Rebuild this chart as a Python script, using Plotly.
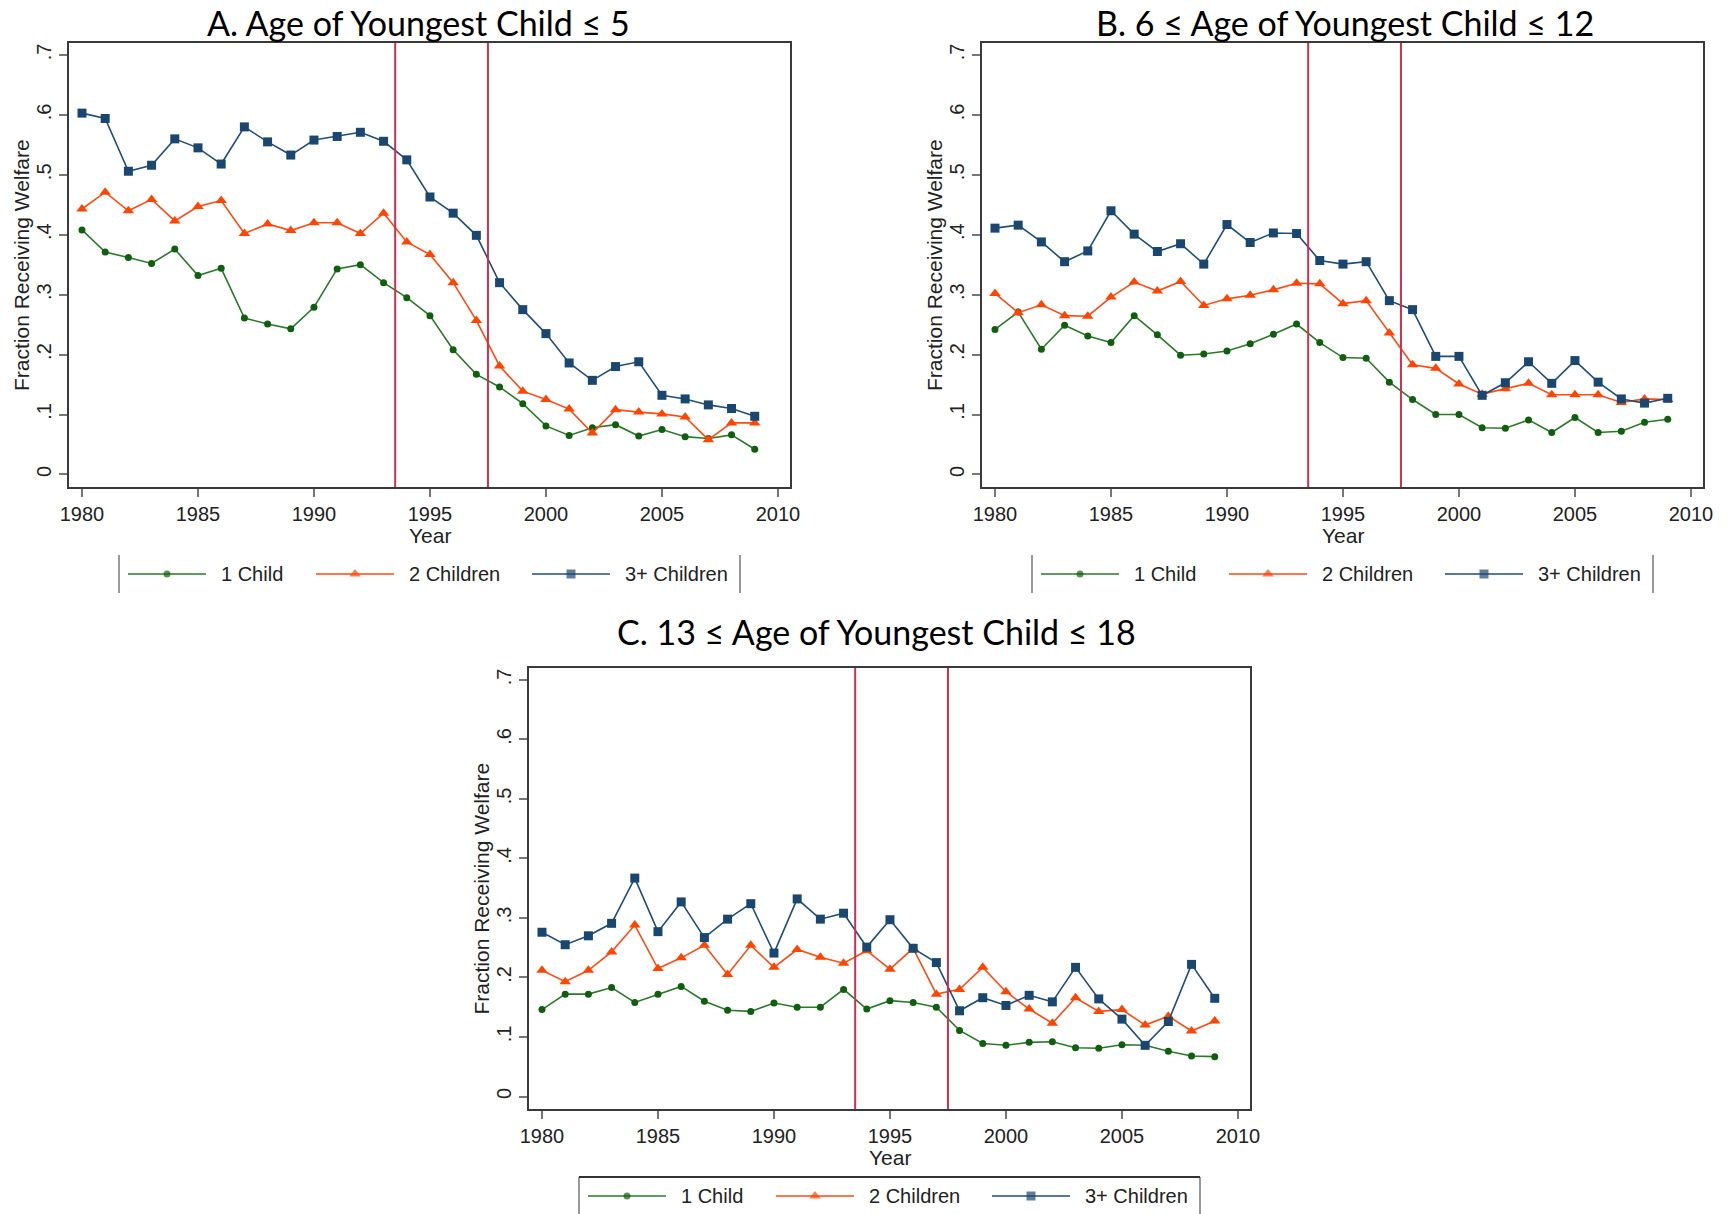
import plotly.graph_objects as go

# ---- data -------------------------------------------------------------
years = list(range(1980, 2010))

a_one = [0.408, 0.371, 0.362, 0.352, 0.376, 0.332, 0.344, 0.261, 0.251, 0.243,
         0.279, 0.343, 0.350, 0.320, 0.295, 0.265, 0.208, 0.167, 0.146, 0.118,
         0.081, 0.065, 0.078, 0.083, 0.064, 0.075, 0.063, 0.060, 0.066, 0.042]
a_two = [0.443, 0.471, 0.440, 0.459, 0.423, 0.447, 0.457, 0.402, 0.418, 0.407,
         0.420, 0.420, 0.402, 0.436, 0.388, 0.367, 0.320, 0.257, 0.181, 0.139,
         0.125, 0.109, 0.069, 0.108, 0.104, 0.101, 0.096, 0.058, 0.086, 0.086]
a_three = [0.603, 0.594, 0.506, 0.516, 0.560, 0.545, 0.518, 0.580, 0.555, 0.533,
           0.558, 0.564, 0.571, 0.556, 0.525, 0.463, 0.436, 0.399, 0.320, 0.275,
           0.235, 0.186, 0.157, 0.180, 0.188, 0.132, 0.126, 0.116, 0.110, 0.097]

b_one = [0.242, 0.271, 0.209, 0.249, 0.231, 0.220, 0.265, 0.233, 0.199, 0.201,
         0.206, 0.218, 0.234, 0.251, 0.220, 0.195, 0.194, 0.154, 0.125, 0.100,
         0.100, 0.078, 0.077, 0.091, 0.070, 0.095, 0.070, 0.072, 0.087, 0.092]
b_two = [0.302, 0.270, 0.283, 0.265, 0.264, 0.296, 0.321, 0.306, 0.322, 0.282,
         0.293, 0.299, 0.308, 0.319, 0.318, 0.285, 0.290, 0.236, 0.183, 0.177,
         0.151, 0.134, 0.143, 0.152, 0.133, 0.133, 0.133, 0.120, 0.126, 0.125]
b_three = [0.411, 0.416, 0.388, 0.355, 0.373, 0.440, 0.401, 0.372, 0.385, 0.351,
           0.417, 0.387, 0.403, 0.402, 0.357, 0.351, 0.355, 0.290, 0.275, 0.197,
           0.197, 0.132, 0.153, 0.188, 0.152, 0.190, 0.154, 0.126, 0.119, 0.127]

c_one = [0.146, 0.172, 0.172, 0.183, 0.158, 0.172, 0.185, 0.160, 0.145, 0.143,
         0.157, 0.150, 0.150, 0.180, 0.147, 0.161, 0.158, 0.150, 0.111, 0.089,
         0.086, 0.091, 0.092, 0.082, 0.081, 0.087, 0.086, 0.076, 0.068, 0.067]
c_two = [0.212, 0.193, 0.212, 0.243, 0.288, 0.215, 0.233, 0.254, 0.205, 0.254,
         0.217, 0.247, 0.234, 0.224, 0.245, 0.214, 0.249, 0.172, 0.180, 0.217,
         0.176, 0.147, 0.123, 0.166, 0.143, 0.146, 0.120, 0.135, 0.110, 0.127]
c_three = [0.276, 0.255, 0.270, 0.291, 0.367, 0.277, 0.327, 0.267, 0.298, 0.324,
           0.241, 0.332, 0.298, 0.308, 0.251, 0.297, 0.249, 0.225, 0.144, 0.166,
           0.153, 0.170, 0.159, 0.217, 0.164, 0.130, 0.086, 0.126, 0.222, 0.165]

panel_titles = ["A. Age of Youngest Child \u2264 5",
                "B. 6 \u2264 Age of Youngest Child \u2264 12",
                "C. 13 \u2264 Age of Youngest Child \u2264 18"]
series_names = ["1 Child", "2 Children", "3+ Children"]
x_title = "Year"
y_title = "Fraction Receiving Welfare"
policy_years = [1993.5, 1997.5]
x_tickvals = [1980, 1985, 1990, 1995, 2000, 2005, 2010]
y_tickvals = [0, 0.1, 0.2, 0.3, 0.4, 0.5, 0.6, 0.7]
y_ticktext = ["0", ".1", ".2", ".3", ".4", ".5", ".6", ".7"]

# ---- styling ------------------------------------------------------------
W, H = 1728, 1214
LINE_COLORS = ["#2a7a2a", "#ff4a12", "#1f4e79"]
MARK_COLORS = ["#0f5f0f", "#ff4500", "#1a476f"]
SYMBOLS = ["circle", "triangle-up", "square"]
SIZES = [7, 10, 9]
VLINE = "#d0304f"
TICK_FONT = dict(family="Liberation Sans, Arial, sans-serif", size=20, color="#222")
AXTITLE_FONT = dict(family="Liberation Sans, Arial, sans-serif", size=21, color="#222")
LEGEND_FONT = dict(family="Liberation Sans, Arial, sans-serif", size=20, color="#222")
TITLE_FONT = dict(family="Lato, 'Open Sans', sans-serif", size=34, color="#000")

# plot-frame pixel boxes (left, top, right, bottom) and title centre per panel
frames = [(69, 43, 790, 487), (982, 43, 1703, 487), (529, 668, 1250, 1109)]
title_pos = [(418, 22), (1345, 22), (876, 631)]
legend_box_full = [False, False, True]

panels = [(a_one, a_two, a_three), (b_one, b_two, b_three), (c_one, c_two, c_three)]

fig = go.Figure()

for i, (series, (l, t, r, b)) in enumerate(zip(panels, frames)):
    n = "" if i == 0 else str(i + 1)
    xa, ya = "x" + n, "y" + n
    for k, vals in enumerate(series):
        fig.add_trace(go.Scatter(
            x=years, y=vals, mode="lines+markers", name=series_names[k],
            xaxis=xa, yaxis=ya, showlegend=False,
            line=dict(color=LINE_COLORS[k], width=1.6),
            marker=dict(symbol=SYMBOLS[k], size=SIZES[k], color=MARK_COLORS[k],
                        line=dict(width=0)),
        ))
    axis_common = dict(
        showgrid=False, zeroline=False, showline=True, mirror=True,
        linecolor="#3a3a3a", linewidth=2, ticks="outside", ticklen=8,
        tickwidth=1.5, tickcolor="#777", tickfont=TICK_FONT, automargin=False,
    )
    fig.update_layout(**{
        "xaxis" + n: dict(
            domain=[l / W, r / W], range=[1979.44, 2010.52], anchor=ya,
            tickvals=x_tickvals, **axis_common),
        "yaxis" + n: dict(
            domain=[1 - b / H, 1 - t / H], range=[-0.021, 0.72], anchor=xa,
            tickvals=y_tickvals, ticktext=y_ticktext, tickangle=-90,
            ticklabelstandoff=0, **axis_common),
    })
    for yr in policy_years:
        fig.add_shape(type="line", xref=xa, yref=ya + " domain", x0=yr, x1=yr,
                      y0=0, y1=1, line=dict(color=VLINE, width=2))

# pixel-space overlay used for titles, axis titles and legends
fig.update_layout(
    xaxis4=dict(domain=[0, 1], range=[0, W], visible=False, fixedrange=True),
    yaxis4=dict(domain=[0, 1], range=[H, 0], visible=False, fixedrange=True),
)

for i, (l, t, r, b) in enumerate(frames):
    tx, ty = title_pos[i]
    fig.add_annotation(x=tx, y=ty, xref="x4", yref="y4", text=panel_titles[i],
                       showarrow=False, font=TITLE_FONT, xanchor="center",
                       yanchor="middle")
    # axis titles
    fig.add_annotation(x=(l + r) / 2, y=b + 48, xref="x4", yref="y4", text=x_title,
                       showarrow=False, font=AXTITLE_FONT, xanchor="center",
                       yanchor="middle")
    fig.add_annotation(x=l - 48, y=(t + b) / 2, xref="x4", yref="y4", text=y_title,
                       showarrow=False, font=AXTITLE_FONT, textangle=-90,
                       xanchor="center", yanchor="middle")
    # legend frame
    cy = b + 87
    lx0, lx1 = l + 50, l + 671
    y0, y1 = cy - 19, cy + 19
    box_line = dict(color="#777", width=1.5)
    fig.add_shape(type="line", xref="x4", yref="y4", x0=lx0, x1=lx0, y0=y0, y1=y1,
                  line=box_line)
    fig.add_shape(type="line", xref="x4", yref="y4", x0=lx1, x1=lx1, y0=y0, y1=y1,
                  line=box_line)
    if legend_box_full[i]:
        fig.add_shape(type="line", xref="x4", yref="y4", x0=lx0, x1=lx1, y0=y0, y1=y0,
                      line=dict(color="#333", width=2))
        fig.add_shape(type="line", xref="x4", yref="y4", x0=lx0, x1=lx1, y0=y1, y1=y1,
                      line=dict(color="#333", width=2))
    # legend keys and labels
    key_starts = [59, 247, 463]
    for k in range(3):
        ks = l + key_starts[k]
        fig.add_trace(go.Scatter(
            x=[ks, ks + 39, ks + 78], y=[cy, cy, cy], xaxis="x4", yaxis="y4",
            mode="lines+markers", showlegend=False, hoverinfo="skip",
            line=dict(color=LINE_COLORS[k], width=1.6),
            marker=dict(symbol=SYMBOLS[k], size=[0, SIZES[k], 0],
                        color=MARK_COLORS[k], line=dict(width=0)),
        ))
        fig.add_annotation(x=ks + 91, y=cy, xref="x4", yref="y4",
                           text=series_names[k], showarrow=False, font=LEGEND_FONT,
                           xanchor="left", yanchor="middle")

fig.update_layout(
    width=W, height=H, margin=dict(l=0, r=0, t=0, b=0),
    paper_bgcolor="white", plot_bgcolor="rgba(0,0,0,0)",
    showlegend=False,
)

fig.write_html("out.html")
